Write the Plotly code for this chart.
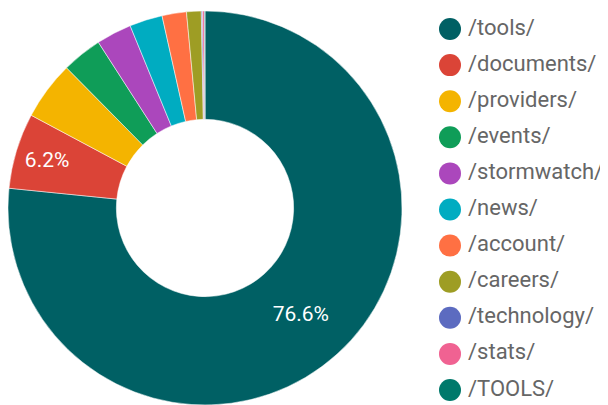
import plotly.graph_objects as go

categories = ["/tools/", "/documents/", "/providers/", "/events/", "/stormwatch/",
              "/news/", "/account/", "/careers/", "/technology/", "/stats/", "/TOOLS/"]
values = [76.6, 6.2, 4.8, 3.3, 2.9, 2.7, 2.0, 1.2, 0.1, 0.15, 0.05]
colors = ["#006064", "#DB4437", "#F4B400", "#0F9D58", "#AB47BC", "#00ACC1",
          "#FF7043", "#9E9D24", "#5C6BC0", "#F06292", "#00796B"]

total = sum(values)
templates = ["%{percent:.1%}" if v / total >= 0.05 else "" for v in values]

W, H = 608, 405
OFF = 8  # page body margin offset
fig = go.Figure()

fig.add_trace(go.Pie(
    labels=categories, values=values, sort=False, direction="clockwise", rotation=0,
    hole=0.45, marker=dict(colors=colors, line=dict(color="white", width=0.5)),
    texttemplate=templates, textposition="inside", insidetextorientation="horizontal",
    textfont=dict(color="white", size=21, family="Roboto"),
    domain=dict(x=[0, 394 / W], y=[8 / H, 402 / H]),
    showlegend=False, hoverinfo="skip",
))

idx = list(range(len(categories)))
fig.add_trace(go.Scatter(
    x=[(450 - OFF) / W] * len(categories), y=idx, mode="markers",
    marker=dict(size=22, color=colors, line=dict(width=0)),
    showlegend=False, hoverinfo="skip", xaxis="x", yaxis="y",
))
fig.add_trace(go.Scatter(
    x=[(468 - OFF) / W] * len(categories), y=idx, mode="text", text=categories,
    textposition="middle right",
    textfont=dict(size=22, color="#666666", family="Roboto"),
    showlegend=False, hoverinfo="skip", xaxis="x", yaxis="y",
))

top_px, step = 29 - OFF, 36.1
fig.update_layout(
    width=W, height=H, margin=dict(l=0, r=0, t=0, b=0),
    paper_bgcolor="white", plot_bgcolor="rgba(0,0,0,0)",
    font=dict(family="Roboto"),
    xaxis=dict(range=[0, 1], domain=[0, 1], visible=False, fixedrange=True),
    yaxis=dict(range=[(H - top_px) / step, -top_px / step], domain=[0, 1],
               visible=False, fixedrange=True),
)

fig.write_html("out.html")
